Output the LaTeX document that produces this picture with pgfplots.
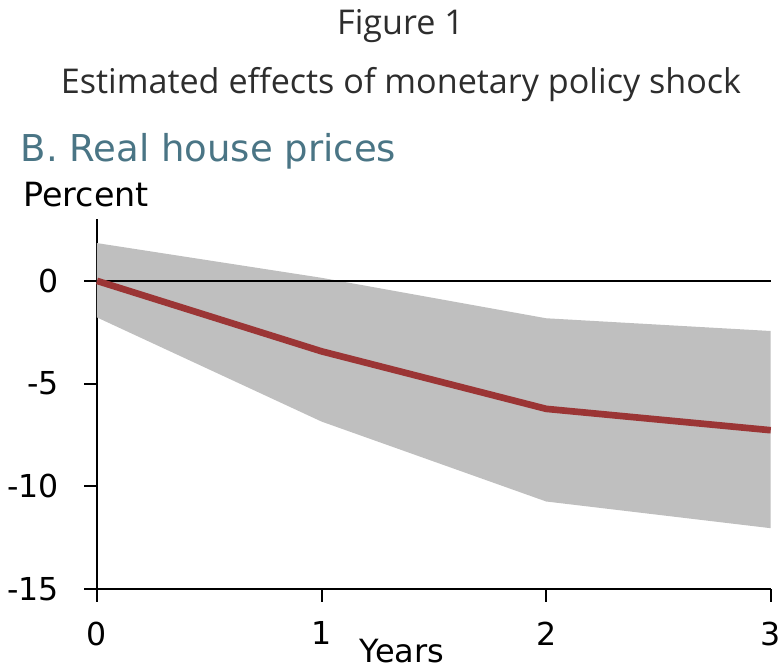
\documentclass[border=0pt]{standalone}
\usepackage{pgfplots}
\pgfplotsset{compat=1.18}
\usepackage{fontspec}
\setmainfont{DejaVu Sans}
\newfontfamily\titlefont{Open Sans}

\definecolor{bandgray}{RGB}{191,191,191}
\definecolor{irfred}{RGB}{155,53,53}
\definecolor{paneltitle}{RGB}{74,117,133}
\definecolor{titlegray}{RGB}{45,45,45}

% point estimate of the response
\pgfplotstableread{
year  est
0     0.00
1    -3.43
2    -6.23
3    -7.27
}\irf

% confidence band: upper bound forward, lower bound back
\pgfplotstableread{
year  bound
0     1.84
1     0.15
2    -1.82
3    -2.44
3    -12.04
2    -10.74
1    -6.85
0    -1.78
}\band

\begin{document}
\begin{tikzpicture}
\path[use as bounding box] (0,0) rectangle (586.5pt,503.25pt);

\node[anchor=base, inner sep=0pt, text=titlegray] at (300.4pt,477pt)
  {\titlefont\fontsize{25.6pt}{30pt}\selectfont Figure 1};
\node[anchor=base, inner sep=0pt, text=titlegray] at (300.75pt,432.75pt)
  {\titlefont\fontsize{25.6pt}{30pt}\selectfont Estimated effects of monetary policy shock};
\node[anchor=base west, inner sep=0pt, text=paneltitle] at (15.5pt,381.75pt)
  {\fontsize{27.75pt}{32pt}\selectfont B. Real house prices};
\node[anchor=base west, inner sep=0pt] at (17.25pt,348pt)
  {\fontsize{25pt}{29pt}\selectfont Percent};
\node[anchor=base, inner sep=0pt] at (301.5pt,6pt)
  {\fontsize{24pt}{28pt}\selectfont Years};

\begin{axis}[
  at={(72.75pt,61.5pt)}, anchor=south west,
  scale only axis, width=505.3pt, height=277.3pt,
  xmin=0, xmax=3, ymin=-15, ymax=3,
  axis x line=bottom, axis y line=left,
  axis line style={-, line width=1.4pt, black},
  xtick={0,1,2,3}, ytick={-15,-10,-5,0},
  tick align=outside, major tick length=9.5pt,
  tick style={line width=1.4pt, black},
  tick label style={font=\fontsize{23.7pt}{28pt}\selectfont},
  /pgf/number format/assume math mode=true,
  xticklabel style={anchor=north, inner sep=0pt, yshift=-15pt},
  yticklabel style={anchor=east, inner sep=0pt, xshift=-19pt},
  clip=false,
]
  \addplot[draw=none, fill=bandgray] table[x=year, y=bound] {\band} -- cycle;
  \addplot[black, line width=1.5pt] coordinates {(0,0) (3,0)};
  \addplot[irfred, line width=5pt] table[x=year, y=est] {\irf};
\end{axis}
\end{tikzpicture}
\end{document}
